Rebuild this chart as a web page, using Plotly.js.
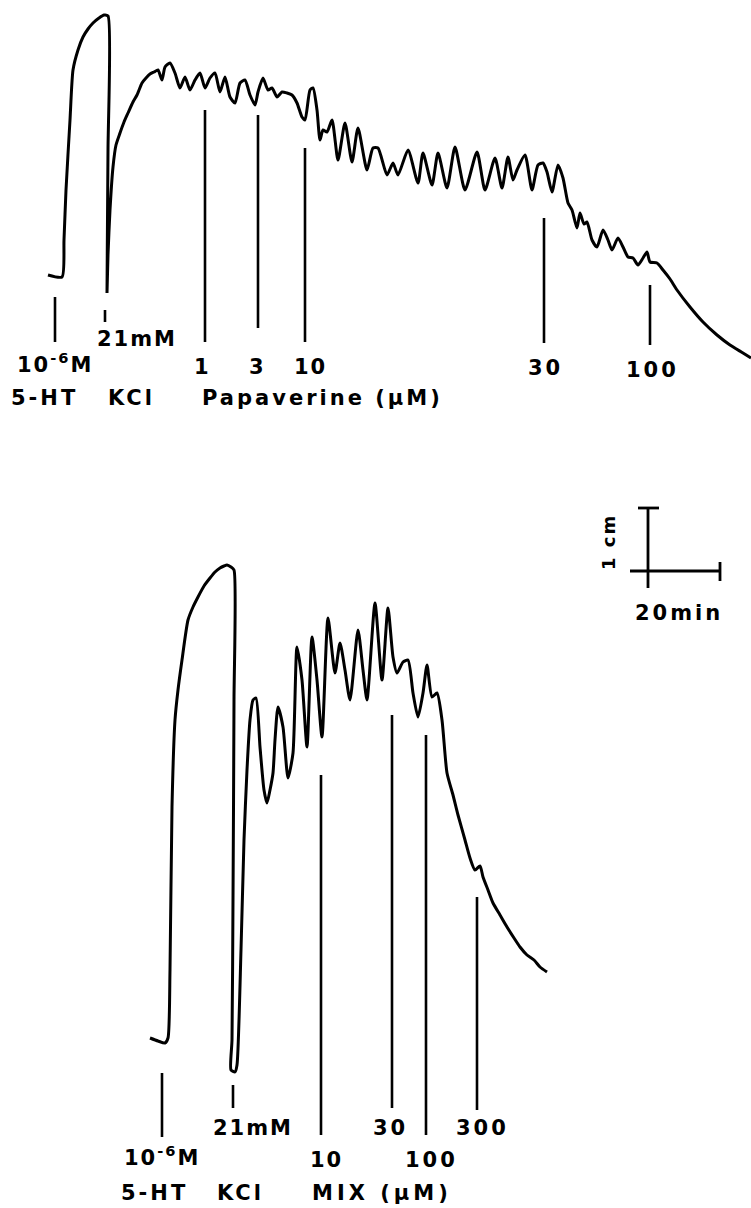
<!DOCTYPE html>
<html>
<head>
<meta charset="utf-8">
<script src="https://cdn.plot.ly/plotly-3.0.1.min.js"></script>
<style>
  html, body { margin: 0; padding: 0; background: #fff; }
  #chart { width: 751px; height: 1208px; }
</style>
</head>
<body>
<div id="chart"></div>
<script>
var topTime = [48,62,64,66,70,73,78,83,88,93,
  99,104,108,108,107,108,110,113,116,120,
  124,128,133,137,142,146,150,154,158,162,
  165,170,175,180,185,190,195,200,205,210,
  215,220,225,230,235,240,245,250,255,258,
  263,268,272,277,282,287,292,297,302,305,
  310,313,317,320,323,327,332,338,345,352,
  358,367,373,378,387,393,398,408,418,423,
  432,438,447,455,465,477,485,495,502,508,
  513,517,525,532,538,543,547,552,558,563,
  568,572,577,580,584,587,592,597,603,608,
  612,618,623,628,633,638,643,647,650,657,
  663,670,677,690,703,717,730,743,751];
var topTension = [275,277,240,190,120,70,50,37,29,23,
  18,15,16,150,293,255,210,167,145,133,
  122,113,102,95,83,78,74,72,70,80,
  67,63,73,88,77,90,80,73,88,78,
  73,92,77,97,103,83,80,95,105,92,
  78,90,88,97,92,93,95,103,117,120,
  90,88,110,140,130,132,120,160,123,162,
  128,170,148,148,175,163,175,150,183,153,
  185,153,188,147,190,152,190,158,188,157,
  180,170,155,190,165,163,172,192,165,178,
  203,210,228,213,224,222,240,247,230,240,
  250,238,247,257,258,265,258,252,262,263,
  270,279,290,307,322,335,345,353,358];

var bottomTime = [150,158,165,168,170,172,175,178,182,188,
  193,198,204,210,215,220,224,227,231,234,
  234,233,232,231,235,237,241,244,247,250,
  253,256,260,264,267,270,273,275,278,283,
  288,293,297,302,307,312,317,322,328,335,
  340,345,350,358,363,367,375,382,388,393,
  397,403,408,413,418,423,427,432,437,442,
  447,453,458,465,470,475,480,483,488,493,
  500,507,514,520,527,534,540,547];
var bottomTension = [1038,1041,1043,1038,970,807,720,690,660,620,
  607,597,586,578,572,568,566,565,567,570,
  700,900,1040,1070,1072,1065,950,840,770,720,
  700,698,747,790,803,790,773,740,707,727,
  778,753,647,680,747,637,680,737,618,673,
  643,670,700,630,670,700,603,680,608,657,
  673,662,660,693,717,693,665,697,693,720,
  773,795,815,840,858,870,866,877,890,903,
  915,927,938,947,955,960,967,972];

// ---- Drug-addition event markers ----
var topMarkX      = [55, 105, 205, 258, 305, 544, 650];
var topMarkTop    = [297, 310, 110, 115, 148, 218, 285];
var topMarkBottom = [342, 322, 342, 328, 342, 343, 345];
var bottomMarkX      = [162, 233, 321, 392, 426, 477];
var bottomMarkTop    = [1073, 1085, 775, 715, 735, 897];
var bottomMarkBottom = [1137, 1108, 1135, 1108, 1135, 1110];

// ---- Calibration bar (1 cm, 20 min) ----
var scaleBarX = [638, 659, null, 648, 648, null, 630, 720, null, 720, 720];
var scaleBarY = [508, 508, null, 508, 588, null, 571, 571, null, 562, 581];

// ---- Text labels ----
var labelText = [
  "10<sup>-6</sup>M", "21mM", "1", "3", "10", "30", "100",
  "5-HT", "KCl", "Papaverine (μM)",
  "21mM", "30", "300",
  "10<sup>-6</sup>M", "10", "100",
  "5-HT", "KCl", "MIX (μM)",
  "20min"
];
var labelX = [55, 137, 202, 257, 310, 545, 652,
  44, 131, 322,
  253, 390, 482,
  162, 326, 431,
  154, 240, 382,
  679];
var labelY = [363, 339, 367, 367, 367, 368, 370,
  398, 398, 398,
  1128, 1128, 1128,
  1156, 1160, 1160,
  1193, 1193, 1193,
  613];
var labelSpacing = [2, 2, 2, 2, 2, 3, 3,
  3, 3, 3,
  2, 3, 3,
  2, 2, 3,
  3, 3, 4,
  3];

function markerSegments(xs, tops, bottoms) {
  var x = [], y = [];
  for (var i = 0; i < xs.length; i++) {
    x.push(xs[i], xs[i], null);
    y.push(tops[i], bottoms[i], null);
  }
  return {x: x, y: y};
}
var tm = markerSegments(topMarkX, topMarkTop, topMarkBottom);
var bm = markerSegments(bottomMarkX, bottomMarkTop, bottomMarkBottom);

var black = '#000000';
var traces = [
  {x: topTime, y: topTension, mode: 'lines', line: {color: black, width: 3, shape: 'spline', smoothing: 0.6}, hoverinfo: 'skip'},
  {x: bottomTime, y: bottomTension, mode: 'lines', line: {color: black, width: 3, shape: 'spline', smoothing: 0.6}, hoverinfo: 'skip'},
  {x: tm.x, y: tm.y, mode: 'lines', line: {color: black, width: 2.6}, hoverinfo: 'skip'},
  {x: bm.x, y: bm.y, mode: 'lines', line: {color: black, width: 2.6}, hoverinfo: 'skip'},
  {x: scaleBarX, y: scaleBarY, mode: 'lines', line: {color: black, width: 2.8}, hoverinfo: 'skip'}
];

var labelFont = {family: 'DejaVu Sans', size: 21, color: black, weight: 'bold'};
var annotations = labelText.map(function (t, i) {
  return {
    x: labelX[i], y: labelY[i], xref: 'x', yref: 'y',
    text: "<span style='letter-spacing:" + labelSpacing[i] + "px'>" + t + "</span>",
    showarrow: false, xanchor: 'center', yanchor: 'middle',
    font: labelFont
  };
});
annotations.push({
  x: 608, y: 542, xref: 'x', yref: 'y',
  text: "<span style='letter-spacing:2px'>1 cm</span>",
  textangle: -90, showarrow: false, xanchor: 'center', yanchor: 'middle',
  font: {family: 'DejaVu Sans', size: 18, color: black, weight: 'bold'}
});

var layout = {
  width: 751, height: 1208,
  margin: {l: 0, r: 0, t: 0, b: 0, pad: 0},
  paper_bgcolor: '#ffffff', plot_bgcolor: '#ffffff',
  showlegend: false,
  xaxis: {range: [0, 751], visible: false, fixedrange: true},
  yaxis: {range: [1208, 0], visible: false, fixedrange: true},
  annotations: annotations
};

Plotly.newPlot('chart', traces, layout, {staticPlot: true, displayModeBar: false});
</script>
</body>
</html>
